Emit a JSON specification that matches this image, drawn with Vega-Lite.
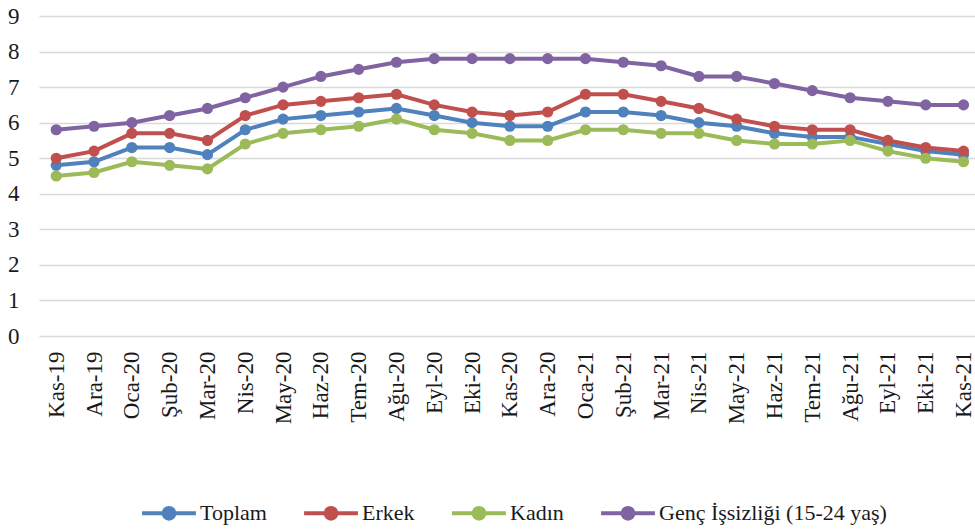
{
  "$schema": "https://vega.github.io/schema/vega-lite/v6.json",
  "width": 936,
  "height": 320,
  "autosize": {"type": "none"},
  "padding": {"left": 39, "top": 16, "right": 0, "bottom": 194},
  "background": "white",
  "config": {
    "view": {"stroke": null},
    "font": "Liberation Serif, Times New Roman, serif",
    "axis": {"labelFont": "Liberation Serif, Times New Roman, serif", "labelColor": "#1a1a1a"},
    "legend": {"labelFont": "Liberation Serif, Times New Roman, serif", "labelColor": "#1a1a1a"}
  },
  "datasets": {
    "rows": [
      {"ay": "Kas-19", "seri": "Toplam", "deger": 4.8},
      {"ay": "Ara-19", "seri": "Toplam", "deger": 4.9},
      {"ay": "Oca-20", "seri": "Toplam", "deger": 5.3},
      {"ay": "Şub-20", "seri": "Toplam", "deger": 5.3},
      {"ay": "Mar-20", "seri": "Toplam", "deger": 5.1},
      {"ay": "Nis-20", "seri": "Toplam", "deger": 5.8},
      {"ay": "May-20", "seri": "Toplam", "deger": 6.1},
      {"ay": "Haz-20", "seri": "Toplam", "deger": 6.2},
      {"ay": "Tem-20", "seri": "Toplam", "deger": 6.3},
      {"ay": "Ağu-20", "seri": "Toplam", "deger": 6.4},
      {"ay": "Eyl-20", "seri": "Toplam", "deger": 6.2},
      {"ay": "Eki-20", "seri": "Toplam", "deger": 6.0},
      {"ay": "Kas-20", "seri": "Toplam", "deger": 5.9},
      {"ay": "Ara-20", "seri": "Toplam", "deger": 5.9},
      {"ay": "Oca-21", "seri": "Toplam", "deger": 6.3},
      {"ay": "Şub-21", "seri": "Toplam", "deger": 6.3},
      {"ay": "Mar-21", "seri": "Toplam", "deger": 6.2},
      {"ay": "Nis-21", "seri": "Toplam", "deger": 6.0},
      {"ay": "May-21", "seri": "Toplam", "deger": 5.9},
      {"ay": "Haz-21", "seri": "Toplam", "deger": 5.7},
      {"ay": "Tem-21", "seri": "Toplam", "deger": 5.6},
      {"ay": "Ağu-21", "seri": "Toplam", "deger": 5.6},
      {"ay": "Eyl-21", "seri": "Toplam", "deger": 5.4},
      {"ay": "Eki-21", "seri": "Toplam", "deger": 5.2},
      {"ay": "Kas-21", "seri": "Toplam", "deger": 5.1},

      {"ay": "Kas-19", "seri": "Erkek", "deger": 5.0},
      {"ay": "Ara-19", "seri": "Erkek", "deger": 5.2},
      {"ay": "Oca-20", "seri": "Erkek", "deger": 5.7},
      {"ay": "Şub-20", "seri": "Erkek", "deger": 5.7},
      {"ay": "Mar-20", "seri": "Erkek", "deger": 5.5},
      {"ay": "Nis-20", "seri": "Erkek", "deger": 6.2},
      {"ay": "May-20", "seri": "Erkek", "deger": 6.5},
      {"ay": "Haz-20", "seri": "Erkek", "deger": 6.6},
      {"ay": "Tem-20", "seri": "Erkek", "deger": 6.7},
      {"ay": "Ağu-20", "seri": "Erkek", "deger": 6.8},
      {"ay": "Eyl-20", "seri": "Erkek", "deger": 6.5},
      {"ay": "Eki-20", "seri": "Erkek", "deger": 6.3},
      {"ay": "Kas-20", "seri": "Erkek", "deger": 6.2},
      {"ay": "Ara-20", "seri": "Erkek", "deger": 6.3},
      {"ay": "Oca-21", "seri": "Erkek", "deger": 6.8},
      {"ay": "Şub-21", "seri": "Erkek", "deger": 6.8},
      {"ay": "Mar-21", "seri": "Erkek", "deger": 6.6},
      {"ay": "Nis-21", "seri": "Erkek", "deger": 6.4},
      {"ay": "May-21", "seri": "Erkek", "deger": 6.1},
      {"ay": "Haz-21", "seri": "Erkek", "deger": 5.9},
      {"ay": "Tem-21", "seri": "Erkek", "deger": 5.8},
      {"ay": "Ağu-21", "seri": "Erkek", "deger": 5.8},
      {"ay": "Eyl-21", "seri": "Erkek", "deger": 5.5},
      {"ay": "Eki-21", "seri": "Erkek", "deger": 5.3},
      {"ay": "Kas-21", "seri": "Erkek", "deger": 5.2},

      {"ay": "Kas-19", "seri": "Kadın", "deger": 4.5},
      {"ay": "Ara-19", "seri": "Kadın", "deger": 4.6},
      {"ay": "Oca-20", "seri": "Kadın", "deger": 4.9},
      {"ay": "Şub-20", "seri": "Kadın", "deger": 4.8},
      {"ay": "Mar-20", "seri": "Kadın", "deger": 4.7},
      {"ay": "Nis-20", "seri": "Kadın", "deger": 5.4},
      {"ay": "May-20", "seri": "Kadın", "deger": 5.7},
      {"ay": "Haz-20", "seri": "Kadın", "deger": 5.8},
      {"ay": "Tem-20", "seri": "Kadın", "deger": 5.9},
      {"ay": "Ağu-20", "seri": "Kadın", "deger": 6.1},
      {"ay": "Eyl-20", "seri": "Kadın", "deger": 5.8},
      {"ay": "Eki-20", "seri": "Kadın", "deger": 5.7},
      {"ay": "Kas-20", "seri": "Kadın", "deger": 5.5},
      {"ay": "Ara-20", "seri": "Kadın", "deger": 5.5},
      {"ay": "Oca-21", "seri": "Kadın", "deger": 5.8},
      {"ay": "Şub-21", "seri": "Kadın", "deger": 5.8},
      {"ay": "Mar-21", "seri": "Kadın", "deger": 5.7},
      {"ay": "Nis-21", "seri": "Kadın", "deger": 5.7},
      {"ay": "May-21", "seri": "Kadın", "deger": 5.5},
      {"ay": "Haz-21", "seri": "Kadın", "deger": 5.4},
      {"ay": "Tem-21", "seri": "Kadın", "deger": 5.4},
      {"ay": "Ağu-21", "seri": "Kadın", "deger": 5.5},
      {"ay": "Eyl-21", "seri": "Kadın", "deger": 5.2},
      {"ay": "Eki-21", "seri": "Kadın", "deger": 5.0},
      {"ay": "Kas-21", "seri": "Kadın", "deger": 4.9},

      {"ay": "Kas-19", "seri": "Genç İşsizliği (15-24 yaş)", "deger": 5.8},
      {"ay": "Ara-19", "seri": "Genç İşsizliği (15-24 yaş)", "deger": 5.9},
      {"ay": "Oca-20", "seri": "Genç İşsizliği (15-24 yaş)", "deger": 6.0},
      {"ay": "Şub-20", "seri": "Genç İşsizliği (15-24 yaş)", "deger": 6.2},
      {"ay": "Mar-20", "seri": "Genç İşsizliği (15-24 yaş)", "deger": 6.4},
      {"ay": "Nis-20", "seri": "Genç İşsizliği (15-24 yaş)", "deger": 6.7},
      {"ay": "May-20", "seri": "Genç İşsizliği (15-24 yaş)", "deger": 7.0},
      {"ay": "Haz-20", "seri": "Genç İşsizliği (15-24 yaş)", "deger": 7.3},
      {"ay": "Tem-20", "seri": "Genç İşsizliği (15-24 yaş)", "deger": 7.5},
      {"ay": "Ağu-20", "seri": "Genç İşsizliği (15-24 yaş)", "deger": 7.7},
      {"ay": "Eyl-20", "seri": "Genç İşsizliği (15-24 yaş)", "deger": 7.8},
      {"ay": "Eki-20", "seri": "Genç İşsizliği (15-24 yaş)", "deger": 7.8},
      {"ay": "Kas-20", "seri": "Genç İşsizliği (15-24 yaş)", "deger": 7.8},
      {"ay": "Ara-20", "seri": "Genç İşsizliği (15-24 yaş)", "deger": 7.8},
      {"ay": "Oca-21", "seri": "Genç İşsizliği (15-24 yaş)", "deger": 7.8},
      {"ay": "Şub-21", "seri": "Genç İşsizliği (15-24 yaş)", "deger": 7.7},
      {"ay": "Mar-21", "seri": "Genç İşsizliği (15-24 yaş)", "deger": 7.6},
      {"ay": "Nis-21", "seri": "Genç İşsizliği (15-24 yaş)", "deger": 7.3},
      {"ay": "May-21", "seri": "Genç İşsizliği (15-24 yaş)", "deger": 7.3},
      {"ay": "Haz-21", "seri": "Genç İşsizliği (15-24 yaş)", "deger": 7.1},
      {"ay": "Tem-21", "seri": "Genç İşsizliği (15-24 yaş)", "deger": 6.9},
      {"ay": "Ağu-21", "seri": "Genç İşsizliği (15-24 yaş)", "deger": 6.7},
      {"ay": "Eyl-21", "seri": "Genç İşsizliği (15-24 yaş)", "deger": 6.6},
      {"ay": "Eki-21", "seri": "Genç İşsizliği (15-24 yaş)", "deger": 6.5},
      {"ay": "Kas-21", "seri": "Genç İşsizliği (15-24 yaş)", "deger": 6.5}
    ]
  },
  "data": {"name": "rows"},
  "mark": {"type": "line", "strokeWidth": 4, "point": {"filled": true, "size": 125, "opacity": 1}},
  "encoding": {
    "x": {
      "field": "ay",
      "type": "nominal",
      "sort": null,
      "scale": {"padding": 0.38, "align": 0.6},
      "axis": {
        "title": null,
        "labelAngle": -90,
        "labelFontSize": 23,
        "labelPadding": 15,
        "ticks": false,
        "tickSize": 0,
        "domain": false,
        "grid": false
      }
    },
    "y": {
      "field": "deger",
      "type": "quantitative",
      "scale": {"domain": [0, 9], "nice": false},
      "axis": {
        "title": null,
        "values": [0, 1, 2, 3, 4, 5, 6, 7, 8, 9],
        "labelFontSize": 23,
        "labelPadding": 20,
        "ticks": false,
        "tickSize": 0,
        "domain": false,
        "grid": true,
        "gridColor": "#d9d9d9",
        "gridWidth": 1.5
      }
    },
    "color": {
      "field": "seri",
      "type": "nominal",
      "sort": null,
      "scale": {
        "domain": ["Toplam", "Erkek", "Kadın", "Genç İşsizliği (15-24 yaş)"],
        "range": ["#4F81BD", "#C0504D", "#9BBB59", "#8064A2"]
      },
      "legend": {
        "title": null,
        "orient": "none",
        "legendX": 101,
        "legendY": 468,
        "direction": "horizontal",
        "labelFontSize": 22,
        "labelLimit": 400,
        "labelOffset": 2,
        "columnPadding": 29,
        "symbolType": "M-1,0L1,0M-0.2,0A0.2,0.2,0,1,1,0.2,0A0.2,0.2,0,1,1,-0.2,0Z",
        "symbolSize": 2900,
        "symbolStrokeWidth": 4,
        "encode": {
          "symbols": {
            "update": {
              "fill": {"scale": "color", "field": "value"},
              "stroke": {"scale": "color", "field": "value"},
              "opacity": {"value": 1}
            }
          }
        }
      }
    }
  }
}
